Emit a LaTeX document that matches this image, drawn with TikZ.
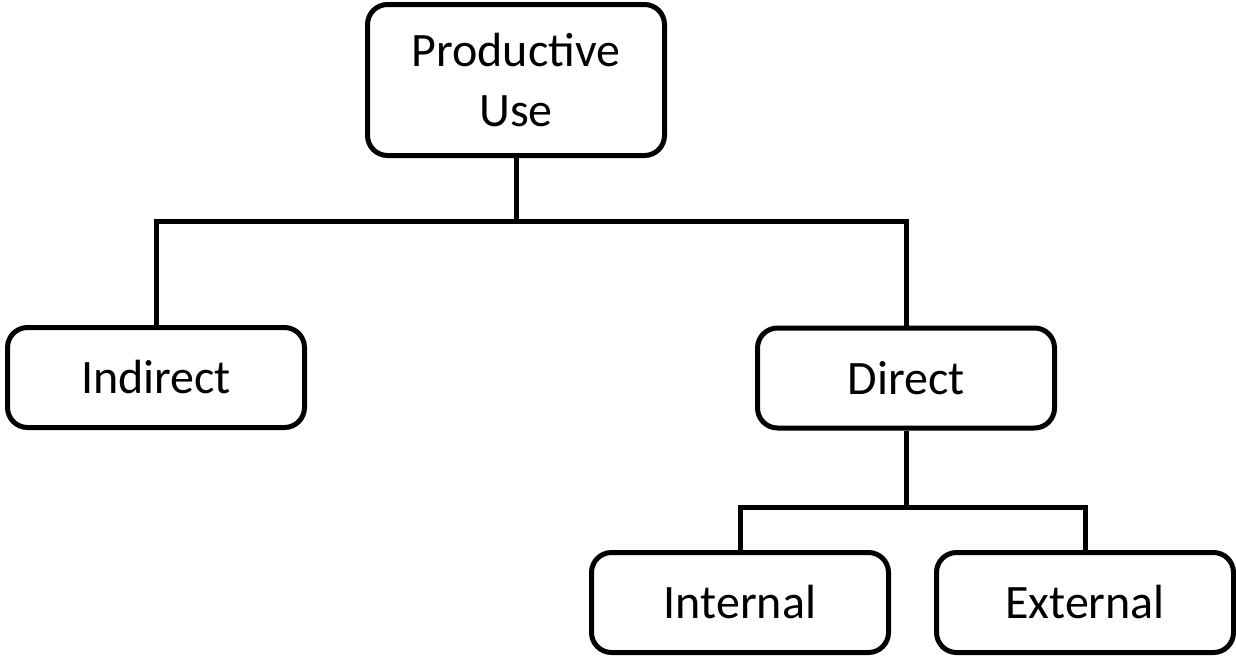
\documentclass[tikz,border=0pt]{standalone}
\usepackage{fontspec}
\setmainfont{Carlito}
\begin{document}
\begin{tikzpicture}[x=1pt,y=-1pt,
  box/.style={draw=black,line width=5pt,rounded corners=20pt,
    minimum width=297pt,minimum height=100pt,inner sep=0pt,
    align=center,font=\fontsize{48}{60}\selectfont},
  link/.style={draw=black,line width=5pt}]
  \useasboundingbox (0,0) rectangle (1236,659);
  % tree nodes
  \node[box,minimum height=151pt] (pu) at (516,80) {Productive\\Use};
  \node[box] (ind) at (156,377.5) {Indirect};
  \node[box] (dir) at (906,378) {Direct};
  \node[box] (int) at (740,602.5) {Internal};
  \node[box] (ext) at (1085,602.5) {External};
  % branching points
  \coordinate (bus1) at (516,221);
  \coordinate (bus2) at (906,507);
  % connectors
  \draw[link] (pu.south) -- (bus1);
  \draw[link] (ind.north) |- (bus1) -| (dir.north);
  \draw[link] (dir.south) -- (bus2);
  \draw[link] (int.north) |- (bus2) -| (ext.north);
\end{tikzpicture}
\end{document}
